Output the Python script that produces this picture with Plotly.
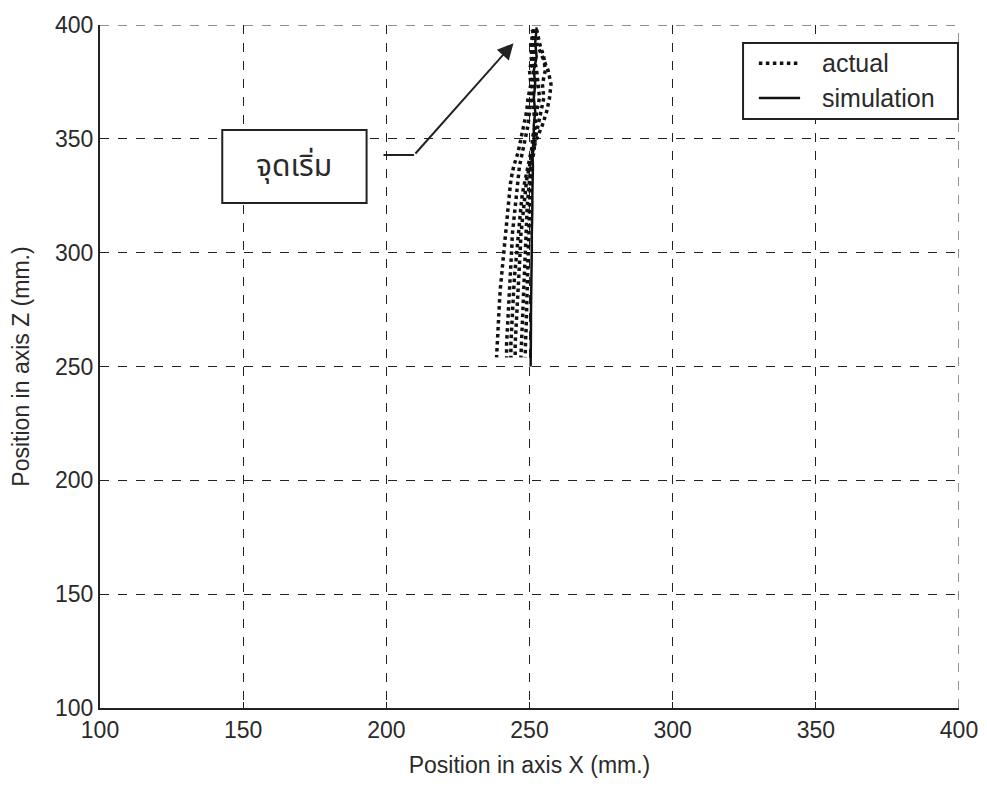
import plotly.graph_objects as go

# z positions (mm) at which the traces were read
z_levels = [398, 392, 386, 380, 374, 368, 362, 356, 350, 344, 338, 332, 326,
            320, 314, 308, 302, 296, 290, 284, 278, 272, 266, 260, 254]
z_sim = [399, 392, 386, 380, 374, 368, 362, 356, 350, 344, 338, 332, 326,
         320, 314, 308, 302, 296, 290, 284, 278, 272, 266, 260, 250]

actual_a = [251.5, 250.5, 251, 250, 250.5, 249.5, 249, 248, 247, 246, 244.5, 243.5, 243,
            242.5, 242, 241.5, 241, 240.5, 240.2, 239.8, 239.5, 239.2, 239, 238.6, 238.5]
actual_b = [252, 251, 252, 251.5, 251, 250.5, 250, 249.5, 248.5, 247.5, 246.5, 246, 245.5,
            245, 244.5, 244, 243.8, 243.5, 243.2, 243, 242.8, 242.5, 242.3, 242, 242]
actual_c = [251, 252.5, 254.5, 256.5, 257.5, 257, 256, 254.5, 252.5, 251, 250, 249, 248.5,
            248, 247.5, 247, 246.8, 246.5, 246.2, 246, 245.8, 245.5, 245.3, 245, 245]
actual_d = [252.5, 253.5, 255, 255.5, 254.5, 255, 254, 253, 252, 251.5, 250.5, 250, 249.5,
            249.2, 249, 248.8, 248.5, 248.3, 248, 247.8, 247.6, 247.4, 247.2, 247, 247]
actual_e = [252, 251, 250.5, 251.5, 252, 251, 251.5, 252, 251, 251, 250.5, 250.5, 250.2,
            250, 250, 249.8, 249.6, 249.5, 249.4, 249.2, 249, 249, 248.8, 248.6, 248.5]
actual_f = [251, 252, 251.5, 252.5, 253, 253.5, 252.5, 252, 251.5, 250.5, 249.5, 248.5, 247.5,
            247, 246.5, 246, 245.5, 245, 244.8, 244.5, 244.2, 244, 243.8, 243.5, 243.5]
simulation = [252.5, 252, 252.5, 251.5, 252, 251.5, 252, 251.5, 251.5, 251, 251.2, 251, 251,
              251, 250.8, 250.8, 250.8, 250.7, 250.7, 250.6, 250.6, 250.5, 250.5, 250.5, 250.4]

ticks = [100, 150, 200, 250, 300, 350, 400]
series_names = ["actual", "simulation"]
start_label = "จุดเริ่ม"

fig = go.Figure()
for i, xs in enumerate([actual_a, actual_b, actual_c, actual_d, actual_e, actual_f]):
    fig.add_trace(go.Scatter(
        x=xs, y=z_levels, mode="lines", name=series_names[0],
        legendgroup="actual", showlegend=False,
        line=dict(color="#111111", width=3.5, dash="dot")))
fig.add_trace(go.Scatter(
    x=simulation, y=z_sim, mode="lines", name=series_names[1], showlegend=False,
    line=dict(color="#111111", width=2.5)))

text_color = "#2a2a2a"
font_fam = "Liberation Sans, Arial, sans-serif"
axis_common = dict(
    range=[100, 400], tickvals=ticks, ticktext=[str(t) for t in ticks],
    showgrid=True, gridcolor="#222222", griddash="dash", gridwidth=1,
    showline=True, linecolor="#222222", linewidth=2, zeroline=False,
    ticks="inside", ticklen=6, tickcolor="#222222", automargin=False,
    tickfont=dict(family=font_fam, size=23, color=text_color),
)

fig.update_xaxes(**axis_common,
                 title=dict(text="Position in axis X (mm.)", standoff=16,
                            font=dict(family=font_fam, size=23, color=text_color)))
fig.update_yaxes(**axis_common,
                 title=dict(text="Position in axis Z (mm.)", standoff=20,
                            font=dict(family=font_fam, size=23, color=text_color)))

# dashed top and right borders (grid at the range ends)
fig.add_shape(type="line", xref="paper", yref="y", x0=0, x1=1, y0=400, y1=400,
              line=dict(color="#222222", width=1, dash="dash"))
fig.add_shape(type="line", xref="x", yref="paper", x0=400, x1=400, y0=0, y1=1,
              line=dict(color="#222222", width=1, dash="dash"))

# annotation box with arrow
fig.add_shape(type="rect", xref="x", yref="y", x0=142.7, x1=193.1, y0=321.8, y1=353.9,
              line=dict(color="#222222", width=2), fillcolor="white", layer="above")
fig.add_annotation(x=167.9, y=337.8, xref="x", yref="y", text=start_label, showarrow=False,
                   font=dict(family="Noto Sans Thai, Noto Sans, sans-serif", size=30, color=text_color))
fig.add_shape(type="line", xref="x", yref="y", x0=199.0, x1=209.7, y0=342.9, y1=342.9,
              line=dict(color="#222222", width=2))
fig.add_annotation(x=244.4, y=392, ax=209.7, ay=342.9, xref="x", yref="y",
                   axref="x", ayref="y", text="", showarrow=True,
                   arrowhead=2, arrowsize=1.6, arrowwidth=2, arrowcolor="#222222")

# legend box (drawn to match the reference's proportions)
fig.add_shape(type="rect", xref="paper", yref="paper", x0=0.7486, x1=0.9988, y0=0.8624, y1=0.9736,
              line=dict(color="#222222", width=2), fillcolor="white", layer="above")
fig.add_shape(type="line", xref="paper", yref="paper", x0=0.767, x1=0.815, y0=0.944, y1=0.944,
              line=dict(color="#111111", width=3.5, dash="dot"), layer="above")
fig.add_shape(type="line", xref="paper", yref="paper", x0=0.767, x1=0.815, y0=0.893, y1=0.893,
              line=dict(color="#111111", width=2.5), layer="above")
for name, yy in zip(series_names, [0.944, 0.893]):
    fig.add_annotation(x=0.838, y=yy, xref="paper", yref="paper", text=name,
                       showarrow=False, xanchor="left", yanchor="middle",
                       font=dict(family=font_fam, size=25, color=text_color))

fig.update_layout(
    width=979, height=770,
    margin=dict(l=92, r=28, t=17, b=70),
    paper_bgcolor="white", plot_bgcolor="white",
    showlegend=False,
)

fig.write_html("out.html")
